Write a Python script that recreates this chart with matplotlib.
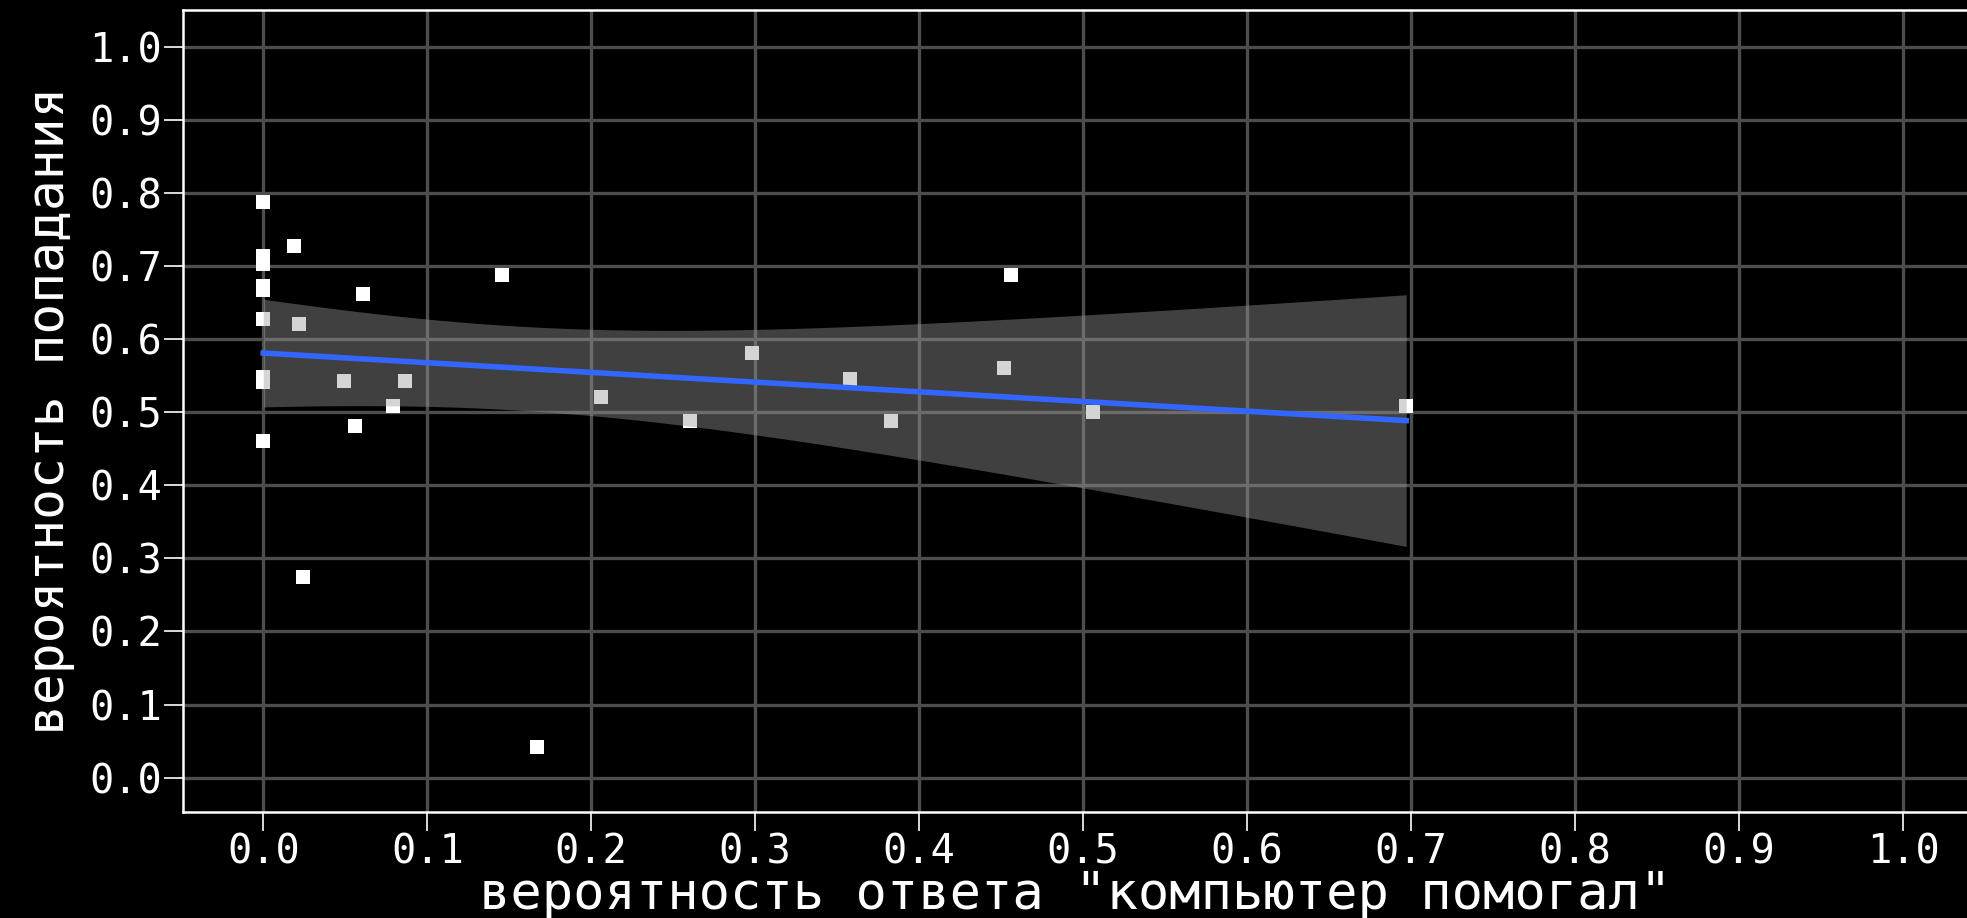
import numpy as np
import matplotlib
matplotlib.use("Agg")
import matplotlib.pyplot as plt

# data
help_prob = [0.0, 0.0, 0.0, 0.0, 0.0, 0.0, 0.0, 0.0, 0.0,
             0.0186, 0.0216, 0.024, 0.049, 0.0558, 0.0607, 0.079, 0.0865,
             0.1454, 0.1668, 0.206, 0.260, 0.298, 0.3577, 0.383, 0.452,
             0.456, 0.506, 0.697]
hit_prob = [0.788, 0.713, 0.703, 0.673, 0.667, 0.627, 0.548, 0.541, 0.461,
            0.727, 0.621, 0.275, 0.542, 0.481, 0.661, 0.509, 0.542,
            0.688, 0.0425, 0.521, 0.488, 0.581, 0.545, 0.488, 0.561,
            0.688, 0.500, 0.509]
ticks = [0.0, 0.1, 0.2, 0.3, 0.4, 0.5, 0.6, 0.7, 0.8, 0.9, 1.0]

x = np.array(help_prob)
y = np.array(hit_prob)

# linear fit with 95% confidence band
n = len(x)
slope, intercept = np.polyfit(x, y, 1)
xs = np.linspace(x.min(), x.max(), 100)
fit = intercept + slope * xs
resid = y - (intercept + slope * x)
s = np.sqrt(np.sum(resid ** 2) / (n - 2))
T_CRIT = 2.056  # t(0.975, df=26)
se = s * np.sqrt(1 / n + (xs - x.mean()) ** 2 / np.sum((x - x.mean()) ** 2))

plt.rcParams['font.family'] = ['DejaVu Sans Mono']

fig = plt.figure(figsize=(19.67, 9.18), dpi=100, facecolor='black')
ax = fig.add_axes([0.093, 0.1155, 0.907, 0.8735], facecolor='black')

ax.scatter(x, y, marker='s', s=100, color='white', linewidths=0, zorder=3)
ax.fill_between(xs, fit - T_CRIT * se, fit + T_CRIT * se,
                color='#999999', alpha=0.42, linewidth=0, zorder=4)
ax.plot(xs, fit, color='#3366ff', linewidth=4, zorder=5)

ax.set_xlim(-0.049, 1.039)
ax.set_ylim(-0.047, 1.05)
ax.set_xticks(ticks)
ax.set_yticks(ticks)
ax.set_xticklabels([f'{t:.1f}' for t in ticks])
ax.set_yticklabels([f'{t:.1f}' for t in ticks])

ax.grid(True, color='#4d4d4d', linewidth=2.4, zorder=0)
ax.set_axisbelow(True)

for side in ['left', 'bottom', 'top']:
    ax.spines[side].set_color('white')
    ax.spines[side].set_linewidth(1.8)
ax.spines['right'].set_visible(False)

ax.tick_params(colors='white', labelsize=29, length=14, width=1.2)
ax.tick_params(axis='y', pad=1)
ax.tick_params(axis='x', pad=1)

ax.set_xlabel('вероятность ответа "компьютер помогал"', color='white',
              fontsize=37.5, labelpad=-2)
ax.set_ylabel('вероятность попадания', color='white', fontsize=37, labelpad=10)

fig.savefig('out.png', dpi=100, facecolor='black')
